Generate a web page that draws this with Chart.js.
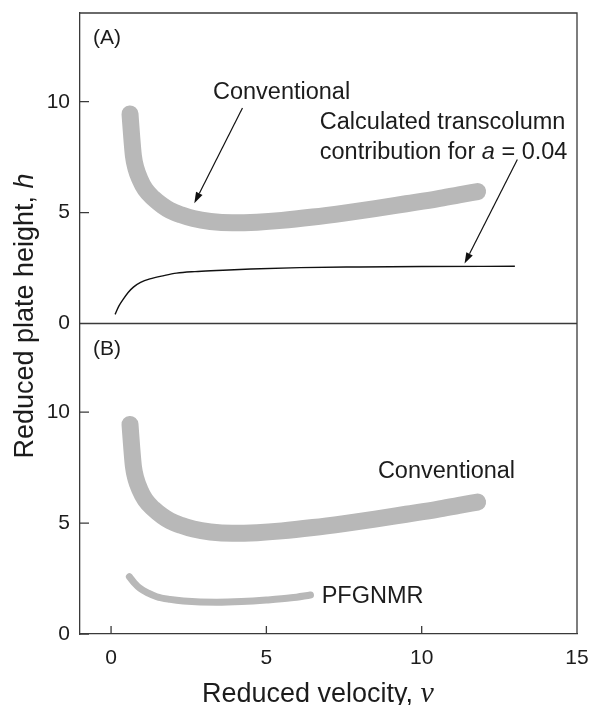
<!DOCTYPE html>
<html><head><meta charset="utf-8">
<script src="https://cdn.jsdelivr.net/npm/chart.js@4/dist/chart.umd.min.js"></script>
<style>html,body{margin:0;padding:0;background:#fff;}#wrap{width:592px;height:705px;}</style>
</head><body><div id="wrap"><canvas id="c" width="592" height="705"></canvas></div>
<script>
// ---- data ----
const xTickValues = [0, 5, 10, 15];
const yTickValues = [0, 5, 10];
const convX = [0.61, 0.66, 0.72, 0.8, 0.93, 1.1, 1.36, 1.65, 1.9, 2.25, 2.65, 3.2, 3.9, 4.7, 5.5, 6.5, 7.5, 8.5, 9.5, 10.5, 11.2, 11.8];
const convY = [9.45, 8.5, 7.55, 7.0, 6.5, 6.05, 5.65, 5.32, 5.1, 4.9, 4.73, 4.6, 4.54, 4.57, 4.65, 4.8, 4.98, 5.18, 5.4, 5.62, 5.8, 5.95];
const transX = [0.13, 0.25, 0.4, 0.55, 0.72, 0.95, 1.25, 1.7, 2.11, 2.7, 3.4, 4.5, 6.08, 8.0, 10.0, 13.0];
const transY = [0.41, 0.78, 1.11, 1.4, 1.64, 1.85, 2.01, 2.16, 2.27, 2.34, 2.39, 2.46, 2.52, 2.55, 2.57, 2.58];
const pfgX = [0.59, 0.75, 0.93, 1.2, 1.47, 1.9, 2.33, 3.4, 4.2, 5.0, 5.8, 6.42];
const pfgY = [2.58, 2.3, 2.06, 1.84, 1.68, 1.56, 1.49, 1.43, 1.46, 1.53, 1.63, 1.76];
const xTitle = 'Reduced velocity, ';
const xTitleSym = 'ν';
const yTitle = 'Reduced plate height, ';
const yTitleSym = 'h';

// ---- annotation placement (data units of each panel) ----
const notes = [
  {axis:'yA', x:-0.58, y:12.61, size:21, parts:[['(A)',false]]},
  {axis:'yA', x:3.28, y:10.14, size:23.5, parts:[['Conventional',false]]},
  {axis:'yA', x:6.72, y:8.78, size:23.5, parts:[['Calculated transcolumn',false]]},
  {axis:'yA', x:6.72, y:7.43, size:23.5, parts:[['contribution for ',false],['a',true],[' = 0.04',false]]},
  {axis:'yB', x:-0.58, y:12.57, size:21, parts:[['(B)',false]]},
  {axis:'yB', x:8.59, y:7.03, size:23.5, parts:[['Conventional',false]]},
  {axis:'yB', x:6.78, y:1.40, size:23.5, parts:[['PFGNMR',false]]}
];
const arrows = [
  {axis:'yA', from:[4.23, 9.72], to:[2.68, 5.42]},
  {axis:'yA', from:[13.08, 7.39], to:[11.38, 2.70]}
];

const FONT = '"Liberation Sans", Arial, sans-serif';
const AXIS = '#3a3a3a';
const TEXT = '#1c1c1c';
const GRAY = '#b8b8b8';

const pts = (xs, ys) => xs.map((v, i) => ({x: v, y: ys[i]}));

function drawRich(ctx, parts, x, y, size) {
  let cx = x;
  for (const [t, it] of parts) {
    ctx.font = (it ? 'italic ' : '') + size + 'px ' + FONT;
    ctx.fillText(t, cx, y);
    cx += ctx.measureText(t).width;
  }
}

const decor = {
  id: 'decor',
  afterDraw(chart) {
    const ctx = chart.ctx, ca = chart.chartArea, s = chart.scales;
    const xs = s.x, yA = s.yA, yB = s.yB;
    ctx.save();
    ctx.strokeStyle = AXIS; ctx.lineWidth = 1.3;
    ctx.beginPath();
    ctx.moveTo(ca.left, ca.top); ctx.lineTo(ca.right, ca.top); ctx.lineTo(ca.right, ca.bottom);
    ctx.moveTo(ca.left, yA.bottom); ctx.lineTo(ca.right, yA.bottom);
    for (const sc of [yA, yB]) for (const v of yTickValues) {
      const p = sc.getPixelForValue(v); ctx.moveTo(ca.left, p); ctx.lineTo(ca.left + 9, p);
    }
    for (const v of xTickValues) {
      const p = xs.getPixelForValue(v); ctx.moveTo(p, ca.bottom); ctx.lineTo(p, ca.bottom - 8);
    }
    ctx.stroke();

    // annotations
    ctx.fillStyle = TEXT; ctx.textBaseline = 'alphabetic'; ctx.textAlign = 'left';
    for (const n of notes) {
      const sc = s[n.axis];
      drawRich(ctx, n.parts, xs.getPixelForValue(n.x), sc.getPixelForValue(n.y), n.size);
    }
    ctx.strokeStyle = '#111'; ctx.lineWidth = 1.2;
    for (const a of arrows) {
      const sc = s[a.axis];
      const x1 = xs.getPixelForValue(a.from[0]), y1 = sc.getPixelForValue(a.from[1]);
      const x2 = xs.getPixelForValue(a.to[0]), y2 = sc.getPixelForValue(a.to[1]);
      const ang = Math.atan2(y2 - y1, x2 - x1), L = 11, W = 3.6;
      const bx = x2 - L * Math.cos(ang), by = y2 - L * Math.sin(ang);
      ctx.beginPath(); ctx.moveTo(x1, y1); ctx.lineTo(bx, by); ctx.stroke();
      ctx.beginPath(); ctx.moveTo(x2, y2);
      ctx.lineTo(bx + W * Math.sin(ang), by - W * Math.cos(ang));
      ctx.lineTo(bx - W * Math.sin(ang), by + W * Math.cos(ang));
      ctx.closePath(); ctx.fillStyle = '#111'; ctx.fill();
    }

    // axis titles
    ctx.fillStyle = TEXT;
    ctx.font = '27px ' + FONT;
    ctx.fillText(xTitle, 202, 702);
    const w1 = ctx.measureText(xTitle).width;
    ctx.font = 'italic 30px "Liberation Serif", "Times New Roman", serif';
    ctx.fillText(xTitleSym, 202 + w1, 702);

    ctx.translate(33, 316);
    ctx.rotate(-Math.PI / 2);
    ctx.font = '27px ' + FONT;
    const a1 = ctx.measureText(yTitle).width;
    ctx.font = 'italic 27px ' + FONT;
    const a2 = ctx.measureText(yTitleSym).width;
    const start = -(a1 + a2) / 2;
    ctx.font = '27px ' + FONT;
    ctx.fillText(yTitle, start, 0);
    ctx.font = 'italic 27px ' + FONT;
    ctx.fillText(yTitleSym, start + a1, 0);
    ctx.restore();
  }
};

const setTicks = vals => sc => { sc.ticks = vals.map(v => ({value: v})); };
const yScale = (weight) => ({
  type: 'linear', position: 'left', stack: 'panels', stackWeight: 1, weight: weight,
  min: 0, max: 14,
  grid: {display: false, drawTicks: false},
  border: {display: true, color: AXIS, width: 1.3},
  ticks: {font: {family: FONT, size: 21}, color: TEXT, padding: 10},
  afterBuildTicks: setTicks(yTickValues),
  afterFit: sc => { sc.width = 80; sc.paddingTop = 0; sc.paddingBottom = 0; }
});

new Chart(document.getElementById('c'), {
  type: 'line',
  data: {
    datasets: [
      {data: pts(convX, convY), yAxisID: 'yA', borderColor: GRAY, borderWidth: 17, borderCapStyle: 'round', borderJoinStyle: 'round', pointRadius: 0, cubicInterpolationMode: 'monotone', fill: false},
      {data: pts(transX, transY), yAxisID: 'yA', borderColor: '#111', borderWidth: 1.4, pointRadius: 0, cubicInterpolationMode: 'monotone', fill: false},
      {data: pts(convX, convY), yAxisID: 'yB', borderColor: GRAY, borderWidth: 17, borderCapStyle: 'round', borderJoinStyle: 'round', pointRadius: 0, cubicInterpolationMode: 'monotone', fill: false},
      {data: pts(pfgX, pfgY), yAxisID: 'yB', borderColor: GRAY, borderWidth: 7, borderCapStyle: 'round', borderJoinStyle: 'round', pointRadius: 0, cubicInterpolationMode: 'monotone', fill: false}
    ]
  },
  options: {
    responsive: false, animation: false, devicePixelRatio: 1,
    layout: {padding: {top: 13, right: 15, left: 0, bottom: 0}},
    plugins: {legend: {display: false}, tooltip: {enabled: false}},
    scales: {
      x: {
        type: 'linear', position: 'bottom', min: -1, max: 15,
        grid: {display: false, drawTicks: false},
        border: {display: true, color: AXIS, width: 1.3},
        ticks: {font: {family: FONT, size: 21}, color: TEXT, padding: 12, maxRotation: 0},
        afterBuildTicks: setTicks(xTickValues),
        afterFit: sc => { sc.height = 71; sc.paddingLeft = 0; sc.paddingRight = 0; }
      },
      yB: yScale(0),
      yA: yScale(1)
    }
  },
  plugins: [decor]
});
</script>
</body></html>
